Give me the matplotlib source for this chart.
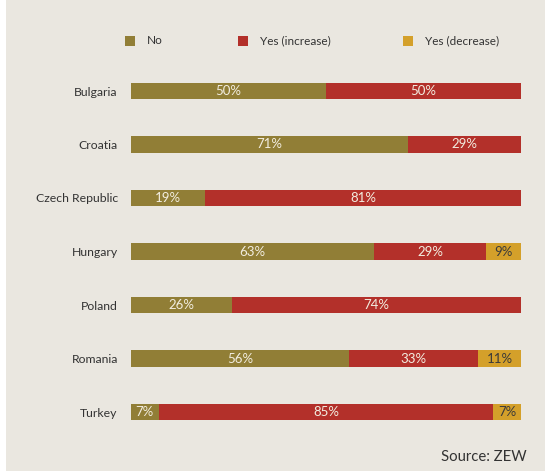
import matplotlib.pyplot as plt
import numpy as np

countries = ['Bulgaria', 'Croatia', 'Czech Republic', 'Hungary', 'Poland', 'Romania', 'Turkey']
no = [50, 71, 19, 63, 26, 56, 7]
yes_inc = [50, 29, 81, 29, 74, 33, 85]
yes_dec = [0, 0, 0, 9, 0, 11, 7]
series_names = ['No', 'Yes (increase)', 'Yes (decrease)']

colors = ['#917E36', '#B3302A', '#D4A02A']
label_colors = ['#F2EDE0', '#F2EDE0', '#3a3a3a']
bg = '#EAE7E0'

plt.rcParams['font.family'] = ['Lato', 'DejaVu Sans']

W, H = 545, 471
fig = plt.figure(figsize=(W / 100, H / 100), dpi=100)
fig.patch.set_facecolor('white')
fig.patches.append(plt.Rectangle((6 / W, 0), 1, 1, transform=fig.transFigure,
                                 facecolor=bg, edgecolor='none', zorder=-10))

# axes placed so bars span x 131..521 px, rows centred at 91..412 px
top_px, bot_px = 91 - 26.75, 412 + 26.75
ax = fig.add_axes([131 / W, 1 - bot_px / H, 390 / W, (bot_px - top_px) / H])
ax.set_facecolor('none')

data = np.array([no, yes_inc, yes_dec], dtype=float)
totals = data.sum(axis=0)
shares = data / totals
y = np.arange(len(countries))
left = np.zeros(len(countries))
for i in range(3):
    ax.barh(y, shares[i], left=left, height=0.3, color=colors[i], label=series_names[i])
    for j in range(len(countries)):
        if data[i, j] > 0:
            ax.text(left[j] + shares[i, j] / 2, y[j], f'{int(data[i, j])}%',
                    ha='center', va='center', fontsize=9.5, color=label_colors[i])
    left += shares[i]

ax.set_xlim(0, 1)
ax.set_ylim(len(countries) - 0.5, -0.5)
ax.set_yticks(y)
ax.set_yticklabels(countries, fontsize=8.8, color='#333333')
ax.tick_params(axis='y', length=0, pad=9.5)
ax.set_xticks([])
for s in ax.spines.values():
    s.set_visible(False)

# legend
leg_x = [125, 238, 403]
for i in range(3):
    fig.patches.append(plt.Rectangle((leg_x[i] / W, 1 - 45.5 / H), 10 / W, 10 / H,
                                     transform=fig.transFigure, facecolor=colors[i],
                                     edgecolor='none'))
    fig.text((leg_x[i] + 22) / W, 1 - 40.5 / H, series_names[i], fontsize=8.5,
             color='#333333', va='center', ha='left')

fig.text(527 / W, 1 - 457 / H, 'Source: ZEW', fontsize=10.7, color='#333333',
         ha='right', va='center')

fig.savefig('out.png', dpi=100, facecolor=fig.get_facecolor())
